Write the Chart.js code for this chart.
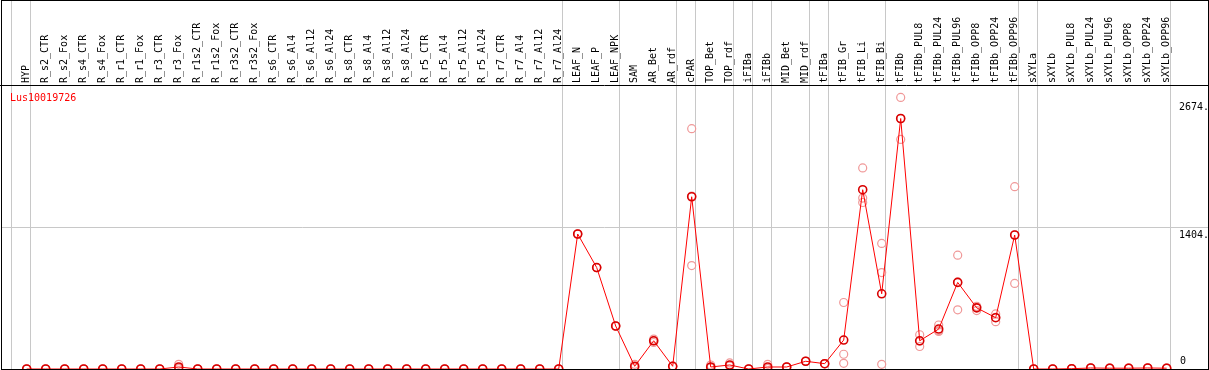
<!DOCTYPE html>
<html>
<head>
<meta charset="utf-8">
<script src="https://cdn.jsdelivr.net/npm/chart.js@4.4.0/dist/chart.umd.min.js"></script>
<style>
  body { margin: 0; background: #fff; }
  #wrap { width: 1209px; height: 370px; }
</style>
</head>
<body>
<div id="wrap"><canvas id="geneChart" width="1209" height="370"></canvas></div>
<script>
const geneName = "Lus10019726";

const samples = [
  "HYP",
  "R_s2_CTR", "R_s2_Fox", "R_s4_CTR", "R_s4_Fox", "R_r1_CTR", "R_r1_Fox",
  "R_r3_CTR", "R_r3_Fox", "R_r1s2_CTR", "R_r1s2_Fox", "R_r3s2_CTR", "R_r3s2_Fox",
  "R_s6_CTR", "R_s6_Al4", "R_s6_Al12", "R_s6_Al24",
  "R_s8_CTR", "R_s8_Al4", "R_s8_Al12", "R_s8_Al24",
  "R_r5_CTR", "R_r5_Al4", "R_r5_Al12", "R_r5_Al24",
  "R_r7_CTR", "R_r7_Al4", "R_r7_Al12", "R_r7_Al24",
  "LEAF_N", "LEAF_P", "LEAF_NPK", "SAM", "AR_Bet", "AR_rdf", "cPAR",
  "TOP_Bet", "TOP_rdf", "iFIBa", "iFIBb", "MID_Bet", "MID_rdf",
  "tFIBa", "tFIB_Gr", "tFIB_Li", "tFIB_Bi", "tFIBb",
  "tFIBb_PUL8", "tFIBb_PUL24", "tFIBb_PUL96", "tFIBb_OPP8", "tFIBb_OPP24", "tFIBb_OPP96",
  "sXYLa", "sXYLb",
  "sXYLb_PUL8", "sXYLb_PUL24", "sXYLb_PUL96", "sXYLb_OPP8", "sXYLb_OPP24", "sXYLb_OPP96"
];

// mean expression per sample
const meanValues = [
  0,
  0, 0, 0, 0, 0, 0, 0, 20, 0, 0, 0, 0,
  0, 0, 0, 0, 0, 0, 0, 0, 0, 0, 0, 0, 0, 0, 0, 0,
  1344, 1010, 428, 27, 281, 27, 1715,
  20, 40, 0, 20, 20, 77,
  53, 288, 1785, 749, 2494,
  281, 398, 862, 609, 511, 1334,
  0, 0,
  3, 10, 8, 8, 10, 8
];

// biological replicates
const rep1 = [
  0,
  0, 0, 0, 0, 0, 0, 0, 47, 0, 0, 0, 0,
  0, 0, 0, 0, 0, 0, 0, 0, 0, 0, 0, 0, 0, 0, 0, 0,
  1344, 1010, 428, 47, 298, 30, 2393,
  40, 60, 0, 47, 20, 77,
  53, 662, 2002, 1250, 2704,
  341, 438, 1133, 625, 548, 1815,
  0, 0,
  3, 10, 8, 8, 10, 8
];
const rep2 = [
  0,
  0, 0, 0, 0, 0, 0, 0, 10, 0, 0, 0, 0,
  0, 0, 0, 0, 0, 0, 0, 0, 0, 0, 0, 0, 0, 0, 0, 0,
  1344, 1010, 428, 20, 281, 27, 1030,
  10, 30, 0, 7, 20, 77,
  53, 147, 1702, 960, 2286,
  224, 374, 589, 582, 471, 852,
  0, 0,
  3, 10, 8, 8, 10, 8
];
const rep3 = [
  0,
  0, 0, 0, 0, 0, 0, 0, 3, 0, 0, 0, 0,
  0, 0, 0, 0, 0, 0, 0, 0, 0, 0, 0, 0, 0, 0, 0, 0,
  1344, 1010, 428, 14, 264, 24, 1722,
  10, 30, 0, 6, 20, 77,
  53, 57, 1658, 47, 2492,
  278, 382, 864, 620, 514, 1335,
  0, 0,
  3, 10, 8, 8, 10, 8
];

// last sample index of each group (grey separators)
const groupEnds = [-1, 0, 28, 31, 34, 35, 37, 38, 39, 41, 42, 45, 52, 53, 60];
const yMarks = [2674, 1404, 0];
const yMax = 3664;

const toXY = arr => arr.map((v, i) => ({ x: i, y: v }));

const labelFont = '10px "DejaVu Sans Mono", monospace';

const decorPlugin = {
  id: "decor",
  afterDraw(chart) {
    const ctx = chart.ctx;
    const xs = chart.scales.x;
    const ys = chart.scales.y;
    ctx.save();
    // header labels
    ctx.fillStyle = "#000";
    ctx.font = labelFont;
    ctx.textAlign = "left";
    ctx.textBaseline = "middle";
    samples.forEach((name, i) => {
      const px = xs.getPixelForValue(i);
      ctx.save();
      ctx.translate(px, 83);
      ctx.rotate(-Math.PI / 2);
      ctx.fillText(name, 0, 0);
      ctx.restore();
    });
    // header separator + frame
    ctx.strokeStyle = "#000";
    ctx.lineWidth = 1;
    ctx.beginPath();
    ctx.moveTo(0, 85.5);
    ctx.lineTo(1209, 85.5);
    ctx.stroke();
    ctx.strokeRect(1.5, 0.5, 1207, 369);
    // value marks on the right
    yMarks.forEach(v => {
      const py = ys.getPixelForValue(v);
      if (v === 0) {
        ctx.textBaseline = "bottom";
        ctx.fillText("0", 1180, py - 3);
      } else {
        ctx.textBaseline = "top";
        ctx.fillText(v + ".", 1179, py + 2);
      }
    });
    // gene name
    ctx.fillStyle = "#ff0000";
    ctx.textBaseline = "top";
    ctx.fillText(geneName, 10, 93);
    ctx.restore();
  }
};

const ctx = document.getElementById("geneChart").getContext("2d");
const geneChart = new Chart(ctx, {
  type: "line",
  data: {
    datasets: [
      {
        label: "mean",
        data: toXY(meanValues),
        borderColor: "#ff0000",
        borderWidth: 1,
        pointRadius: 4,
        pointBorderColor: "#d80000",
        pointBorderWidth: 1.6,
        pointBackgroundColor: "rgba(0,0,0,0)",
        tension: 0,
        clip: false,
        order: 0,
      },
      ...[rep1, rep2, rep3].map((r, k) => ({
        label: "rep" + (k + 1),
        data: toXY(r),
        showLine: false,
        pointRadius: 4,
        pointBorderColor: "#f09898",
        pointBorderWidth: 1.2,
        pointBackgroundColor: "rgba(0,0,0,0)",
        clip: false,
        order: 1,
      })),
    ],
  },
  options: {
    responsive: false,
    animation: false,
    layout: { autoPadding: false, padding: { top: 1, left: 1, right: 1, bottom: 1 } },
    plugins: { legend: { display: false }, tooltip: { enabled: false } },
    scales: {
      x: {
        type: "linear",
        min: -1.3526,
        max: 62.174,
        afterBuildTicks: s => { s.ticks = groupEnds.map(g => ({ value: g + 0.18 })); },
        ticks: { display: false },
        grid: { color: "#c8c8c8", drawTicks: false },
        border: { display: false },
      },
      y: {
        min: 0,
        max: yMax,
        afterBuildTicks: s => { s.ticks = [{ value: 1404 }]; },
        ticks: { display: false },
        grid: { color: "#c8c8c8", drawTicks: false },
        border: { display: false },
      },
    },
  },
  plugins: [decorPlugin],
});
</script>
</body>
</html>
